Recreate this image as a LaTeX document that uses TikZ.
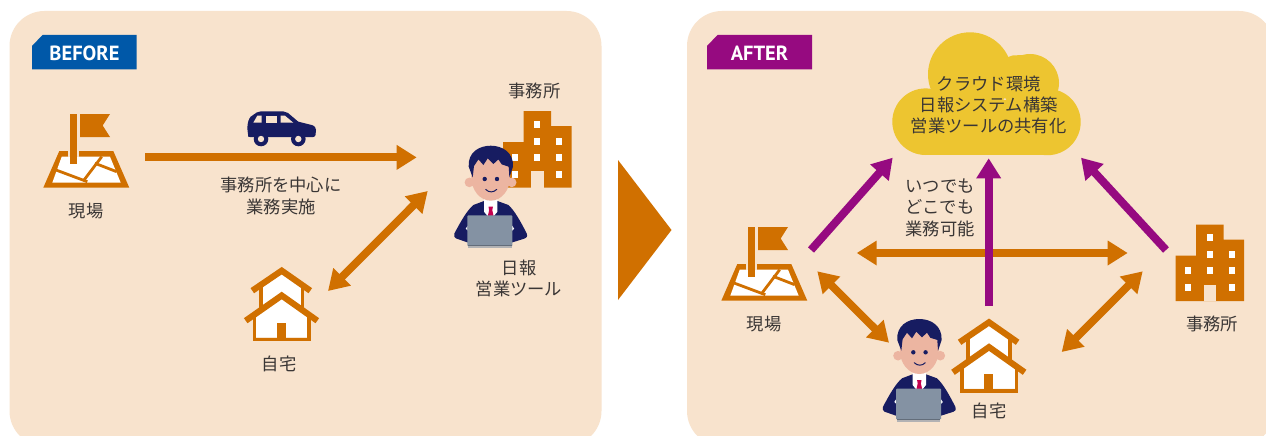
\documentclass[tikz,border=0pt]{standalone}
\usepackage{fontspec}
\setmainfont{Noto Sans CJK JP}
\newfontfamily\tagfont{PT Sans}
\usetikzlibrary{arrows.meta}
\definecolor{panel}{HTML}{F8E3CD}
\definecolor{ochre}{HTML}{D07000}
\definecolor{navy}{HTML}{171C61}
\definecolor{plum}{HTML}{960A80}
\definecolor{azure}{HTML}{0058A8}
\definecolor{sun}{HTML}{EDC530}
\definecolor{ink}{HTML}{3A3635}
\definecolor{skin}{HTML}{ECB5A1}
\definecolor{slate}{HTML}{8492A3}
\definecolor{crimson}{HTML}{C4004F}
\tikzset{
  label/.style={font=\fontsize{17.3}{21.4}\selectfont, text=ink, align=center, inner sep=0pt},
  tagtext/.style={font=\tagfont\bfseries\fontsize{20.5}{22}\selectfont, text=white, inner sep=0pt},
  oneway/.style={line width=8pt, -{Triangle[length=20pt,width=23.5pt]}},
  twoway/.style={line width=7.8pt, {Triangle[length=20pt,width=23.5pt]}-{Triangle[length=20pt,width=23.5pt]}},
  office/.pic={
    \fill[ochre] (503,142) -- (523.7,142) -- (523.7,111) -- (551,111) -- (551,126) -- (571.7,126) -- (571.7,187.7) -- (503,187.7) -- cycle;
    \fill[panel] (531,171.3) rectangle (543.7,187.7);
    \foreach \wx/\wy in {537/124.3,537/141.3,537/157.3,559/141.3,559/157.3,559/174.3,515/157.3,515/174.3}
      \fill[white] (\wx-3,\wy-3.4) rectangle (\wx+3,\wy+3.4);
  },
  site/.pic={
    \fill[ochre] (59.3,151) -- (113.3,151) -- (129.3,187.7) -- (43.3,187.7) -- cycle;
    \fill[white] (61.7,156.7) -- (110,156.7) -- (120.7,182.7) -- (52.3,182.7) -- cycle;
    \draw[ochre,line width=2.8pt] (56,170) -- (87.3,181.7);
    \draw[ochre,line width=2.8pt] (83.3,181) -- (101.7,156.7);
    \draw[ochre,line width=2.8pt] (95,163.3) -- (116.7,171.7);
    \fill[panel] (68.3,150) rectangle (78.7,157);
    \fill[ochre] (70,114) rectangle (77,163.5);
    \fill[ochre] (80,114) -- (110,114) -- (102.7,125.5) -- (110,137) -- (80,137) -- cycle;
  },
  dwelling/.pic={
    \fill[white] (261,288) -- (281.7,272) -- (302,288) -- (302,308) -- (261,308) -- cycle;
    \draw[ochre,line width=3.6pt] (260.8,287) -- (260.8,308);
    \draw[ochre,line width=3.6pt] (302.6,287) -- (302.6,308);
    \draw[ochre,line width=6.2pt,miter limit=10] (252.3,290.7) -- (281.7,270.7) -- (310.3,290.7);
    \fill[white] (255,317) -- (281.7,298) -- (308,317) -- (308,337) -- (255,337) -- cycle;
    \draw[ochre,line width=3.4pt] (254.5,313) -- (254.5,339.4) -- (309,339.4) -- (309,313);
    \draw[ochre,line width=6.2pt,miter limit=10] (245.7,320.7) -- (281.7,295.5) -- (317.3,320.7);
    \fill[ochre] (276.7,322.7) rectangle (286,338);
  },
  worker/.pic={
    % suit and shirt
    \fill[navy] (-36.3,87.7) .. controls (-30,76) and (-24,65) .. (-17.3,59.3)
      -- (-6.7,55.3) -- (6.7,55.3) -- (17.7,59.3)
      .. controls (24,65) and (30,76) .. (36,87.7)
      .. controls (37,91) and (36,92) .. (34.3,92.7)
      -- (21.7,96.7) -- (-23.3,96.7) -- (-34.7,92.7)
      .. controls (-36.5,92) and (-37,90) .. (-36.3,87.7) -- cycle;
    \fill[white] (-6.7,53) -- (6.7,53) -- (6.7,66) -- (2.6,71) -- (-2.6,71) -- (-6.7,66) -- cycle;
    \fill[white] (-25,83) -- (-23,80) -- (-23,85) -- cycle;
    \fill[white] (23.5,83) -- (21.5,80) -- (21.5,85) -- cycle;
    \fill[crimson] (-2.2,61) -- (2.2,61) -- (1.6,64.5) -- (3,71) -- (-3,71) -- (-1.6,64.5) -- cycle;
    % head
    \fill[skin] (-21.3,36.7) circle (4.8);
    \fill[skin] (21,36.7) circle (4.8);
    \fill[skin] (0,31) ellipse (19.5 and 24);
    \fill[navy] (-18,31.7) -- (-22,21) .. controls (-23,7) and (-12,0) .. (0,0)
      .. controls (12,0) and (23,7) .. (22.3,21) -- (18.7,31.7) -- (18,21)
      -- (11,18.7) -- (7.7,13.7) -- (2.7,18.3) -- (-3,12.7) -- (-7.3,19.3) -- (-12.3,13.7) -- (-16.7,20.3) -- cycle;
    \fill[navy] (-6,33.3) circle (2.2);
    \fill[navy] (6.3,33.3) circle (2.2);
    \draw[navy,line width=1pt,line cap=round] (-5,43.7) .. controls (-2,47) and (3,47) .. (6,43.7);
    % laptop
    \fill[slate] (-23.3,70.5) -- ++(0.8,-0.8) -- (20.9,69.7) -- ++(0.8,0.8) -- (21.7,100) -- (-23.3,100) -- cycle;
    \fill[black!25!slate] (-22.3,99.7) rectangle (21,100.7);
    \fill[slate!60!panel] (-22.3,100.7) rectangle (21,102.7);
  },
}
\begin{document}
\begin{tikzpicture}[x=1pt,y=-1pt]
\useasboundingbox (0,0) rectangle (1266,436);
\fill[white] (0,0) rectangle (1266,436);

% Backing panels, running off the page edge
\begin{scope}
  \clip (0,0) rectangle (1266,436);
  \fill[panel,rounded corners=35pt] (9.5,11) rectangle (601.5,446);
  \fill[panel,rounded corners=35pt] (687,11) rectangle (1274,446);
\end{scope}
\fill[ochre] (618,160) -- (671.5,230) -- (618,300) -- cycle;

% Corner tags
\fill[azure] (32,46) -- (42.5,35) -- (136.5,35) -- (136.5,69.5) -- (32,69.5) -- cycle;
\node[tagtext] (tagbefore) at (84.5,53) {BEFORE};
\fill[plum] (707,46) -- (717.5,35) -- (812,35) -- (812,69.5) -- (707,69.5) -- cycle;
\node[tagtext] (tagafter) at (759.5,53) {AFTER};

% Left panel: icons
\pic at (0,0) {site};
\pic at (0,0) {office};
\pic at (0,0) {dwelling};
\pic at (490.7,145.7) {worker};
\begin{scope}
  \fill[navy] (248.3,136.7) -- (247.3,128.3) .. controls (247.5,122) and (249,118.5) .. (250.7,116.7)
    -- (256.7,112.5) .. controls (258,111.6) and (259,111.3) .. (261,111.3) -- (283,111.3)
    .. controls (285,111.3) and (286,111.8) .. (288,113) -- (298.3,121.7) -- (311.7,125)
    .. controls (315,126) and (316,128) .. (316,130) -- (315.5,135) .. controls (315.3,136.5) and (314,137) .. (313,137)
    -- (250,137) .. controls (249,137) and (248.4,137) .. (248.3,136.7) -- cycle;
  \fill[panel] (253.3,122.7) -- (261.7,122.7) -- (261.7,115.7) -- (257.3,115.7) -- cycle;
  \fill[panel] (265.7,115.7) rectangle (276.7,122.7);
  \fill[panel] (280.7,115.7) -- (285,115.7) -- (293.3,122.7) -- (280.7,122.7) -- cycle;
  \fill[navy] (261,139) circle (7.3);
  \fill[navy] (298.3,139) circle (7.3);
  \fill[panel] (261,139) circle (3.2);
  \fill[panel] (298.3,139) circle (3.2);
\end{scope}

% Left panel: labels
\node[label] (genbaA) at (86,211) {現場};
\node[label] (officeA) at (534.5,91) {事務所};
\node[label] (homeA) at (279,364) {自宅};
\node[label] (centerA) at (281,196) {事務所を中心に\\業務実施};
\node[label] (toolA) at (519,278.5) {日報\\営業ツール};

% Left panel: connectors
\coordinate (siteOut) at (145,157.4);
\coordinate (officeIn) at (416.7,157.4);
\coordinate (homeEnd) at (328,291);
\coordinate (workerEnd) at (427.7,191);
\draw[ochre,oneway] (siteOut) -- (officeIn);
\draw[ochre,twoway] (homeEnd) -- (workerEnd);

% Right panel: cloud
\fill[sun] (925.6,121.7) circle (33.3);
\fill[sun] (1047.5,122) circle (33.2);
\fill[sun] (970,74.3) circle (42);
\fill[sun] (1030,83) circle (29);
\fill[sun] (1000,60) -- (1012.5,55.5) -- (1022,55) -- (1022,80) -- (1000,80) -- cycle;
\fill[sun] (925,100) rectangle (1048,155);
\node[label] (cloudtext) at (988.7,105) {クラウド環境\\日報システム構築\\営業ツールの共有化};

% Right panel: icons
\pic at (678,113) {site};
\pic at (672.5,113.5) {office};
\pic at (707.3,51.6) {dwelling};
\pic at (919.3,319) {worker};

% Right panel: labels
\node[label] (genbaB) at (764,324) {現場};
\node[label] (officeB) at (1212,324) {事務所};
\node[label] (homeB) at (989,411) {自宅};
\node[label] (anywhere) at (940,207.5) {いつでも\\どこでも\\業務可能};

% Right panel: connectors
\coordinate (siteUp) at (811,250);
\coordinate (cloudL) at (892.7,157.7);
\coordinate (homeUp) at (988.7,306);
\coordinate (cloudM) at (988.7,158.3);
\coordinate (officeUp) at (1166,250);
\coordinate (cloudR) at (1081,157.7);
\coordinate (spanL) at (856.7,253);
\coordinate (spanR) at (1127.7,253);
\coordinate (siteLow) at (817.3,271.3);
\coordinate (workerB) at (889,342.7);
\coordinate (officeLow) at (1142.7,271.3);
\coordinate (homeB2) at (1061.7,352);
\draw[ochre,twoway] (spanL) -- (spanR);
\draw[plum,oneway] (siteUp) -- (cloudL);
\draw[plum,oneway] (homeUp) -- (cloudM);
\draw[plum,oneway] (officeUp) -- (cloudR);
\draw[ochre,twoway] (siteLow) -- (workerB);
\draw[ochre,twoway] (officeLow) -- (homeB2);
\end{tikzpicture}
\end{document}
